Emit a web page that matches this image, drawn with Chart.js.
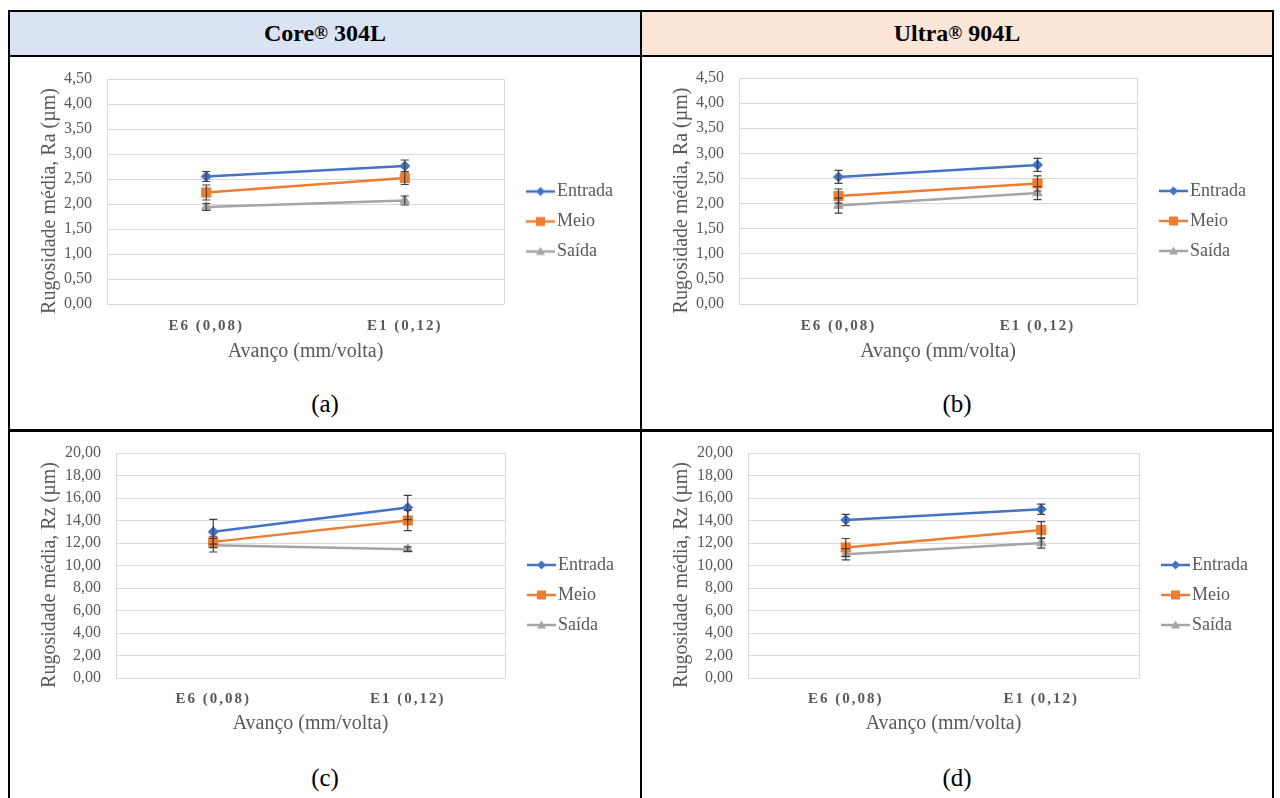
<!DOCTYPE html>
<html>
<head>
<meta charset="utf-8">
<script src="https://cdn.jsdelivr.net/npm/chart.js@4.4.1/dist/chart.umd.min.js"></script>
<style>
  html, body { margin: 0; padding: 0; background: #fff; }
  body { position: relative; width: 1280px; height: 798px; overflow: hidden;
         font-family: "Liberation Serif", "Times New Roman", serif; color: #000; }
  .ln { position: absolute; background: #000; }
  .hdr { position: absolute; top: 12px; height: 43px; width: 630px; display: flex;
         align-items: center; justify-content: center; font-weight: bold; font-size: 24px; }
  .hdr sup { font-size: 0.78em; line-height: 0; position: relative; top: -0.02em; }
  .cap { position: absolute; width: 630px; text-align: center; font-size: 25px; line-height: 28px; }
  canvas { position: absolute; }
</style>
</head>
<body>
  <!-- table header cells -->
  <div class="hdr" style="left:10px;background:#DAE3F3;">Core<sup>®</sup>&nbsp;304L</div>
  <div class="hdr" style="left:642px;background:#FBE5D6;">Ultra<sup>®</sup>&nbsp;904L</div>

  <!-- table rules -->
  <div class="ln" style="left:8px;top:10px;width:1266px;height:2px;"></div>
  <div class="ln" style="left:8px;top:10px;width:2px;height:788px;"></div>
  <div class="ln" style="left:1272px;top:10px;width:2px;height:788px;"></div>
  <div class="ln" style="left:640px;top:10px;width:2px;height:788px;"></div>
  <div class="ln" style="left:8px;top:55px;width:1266px;height:2px;"></div>
  <div class="ln" style="left:8px;top:429px;width:1266px;height:3px;"></div>

  <canvas id="chartA" width="630" height="307" style="left:10px;top:57px;"></canvas>
  <canvas id="chartB" width="630" height="307" style="left:642px;top:57px;"></canvas>
  <canvas id="chartC" width="630" height="305" style="left:10px;top:432px;"></canvas>
  <canvas id="chartD" width="630" height="305" style="left:642px;top:432px;"></canvas>

  <div class="cap" style="left:10px;top:390px;">(a)</div>
  <div class="cap" style="left:642px;top:390px;">(b)</div>
  <div class="cap" style="left:10px;top:764px;">(c)</div>
  <div class="cap" style="left:642px;top:764px;">(d)</div>

<script>
// ---- data -------------------------------------------------------------
const categories = ['E6 (0,08)', 'E1 (0,12)'];
const seriesNames = ['Entrada', 'Meio', 'Saída'];

// Ra (µm) – Core 304L
const raCoreEntrada = [2.55, 2.76];
const raCoreEntradaErr = [0.10, 0.12];
const raCoreMeio = [2.23, 2.52];
const raCoreMeioErr = [0.15, 0.13];
const raCoreSaida = [1.94, 2.07];
const raCoreSaidaErr = [0.07, 0.09];

// Ra (µm) – Ultra 904L
const raUltraEntrada = [2.53, 2.77];
const raUltraEntradaErr = [0.13, 0.13];
const raUltraMeio = [2.15, 2.40];
const raUltraMeioErr = [0.14, 0.15];
const raUltraSaida = [1.96, 2.21];
const raUltraSaidaErr = [0.15, 0.13];

// Rz (µm) – Core 304L
const rzCoreEntrada = [13.0, 15.15];
const rzCoreEntradaErr = [1.10, 1.08];
const rzCoreMeio = [12.1, 14.0];
const rzCoreMeioErr = [0.50, 0.90];
const rzCoreSaida = [11.8, 11.45];
const rzCoreSaidaErr = [0.60, 0.20];

// Rz (µm) – Ultra 904L
const rzUltraEntrada = [14.05, 15.0];
const rzUltraEntradaErr = [0.50, 0.45];
const rzUltraMeio = [11.6, 13.15];
const rzUltraMeioErr = [0.80, 0.75];
const rzUltraSaida = [11.0, 12.0];
const rzUltraSaidaErr = [0.50, 0.45];

// y-axis ranges: [min, max, step]
const raTicks = [0, 4.5, 0.5];
const rzTicks = [0, 20, 2];

const raTitle = 'Rugosidade média, Ra (µm)';
const rzTitle = 'Rugosidade média, Rz (µm)';
const xTitle = 'Avanço (mm/volta)';

// ---- styling ----------------------------------------------------------
const FONT = '"Liberation Serif", "Times New Roman", serif';
const TEXT_GREY = '#595959';
const GRID_GREY = '#D9D9D9';
const seriesColors = ['#4472C4', '#ED7D31', '#A5A5A5'];
const seriesMarkers = ['rectRot', 'rect', 'triangle'];
const markerRadius = [5, 6.5, 5.5];

Chart.defaults.font.family = FONT;
Chart.defaults.color = TEXT_GREY;

// legend swatch: a short line with the series marker on it
function makeSwatch(color, marker) {
  const c = document.createElement('canvas');
  c.width = 46; c.height = 14;
  const g = c.getContext('2d');
  g.strokeStyle = color; g.fillStyle = color; g.lineWidth = 2.5;
  g.beginPath(); g.moveTo(17, 7); g.lineTo(46, 7); g.stroke();
  const cx = 31.5, cy = 7;
  g.beginPath();
  if (marker === 'rectRot') {
    g.moveTo(cx, cy - 4.5); g.lineTo(cx + 4.5, cy); g.lineTo(cx, cy + 4.5); g.lineTo(cx - 4.5, cy);
  } else if (marker === 'rect') {
    g.rect(cx - 4.5, cy - 4.5, 9, 9);
  } else {
    g.moveTo(cx, cy - 4.5); g.lineTo(cx + 4.5, cy + 3.5); g.lineTo(cx - 4.5, cy + 3.5);
  }
  g.closePath(); g.fill();
  return c;
}
const swatches = seriesColors.map((c, i) => makeSwatch(c, seriesMarkers[i]));

// error bars drawn through the value scale
const errorBars = {
  id: 'errorBars',
  afterDatasetsDraw(chart) {
    const { ctx } = chart;
    const y = chart.scales.y;
    ctx.save();
    ctx.strokeStyle = '#3F3F3F';
    ctx.lineWidth = 1.2;
    chart.data.datasets.forEach((ds, di) => {
      const meta = chart.getDatasetMeta(di);
      (ds.errors || []).forEach((e, i) => {
        const pt = meta.data[i];
        if (!pt) return;
        const x = pt.x;
        const yTop = y.getPixelForValue(ds.data[i] + e);
        const yBot = y.getPixelForValue(ds.data[i] - e);
        const cap = 4;
        ctx.beginPath();
        ctx.moveTo(x, yTop); ctx.lineTo(x, yBot);
        ctx.moveTo(x - cap, yTop); ctx.lineTo(x + cap, yTop);
        ctx.moveTo(x - cap, yBot); ctx.lineTo(x + cap, yBot);
        ctx.stroke();
      });
    });
    ctx.restore();
  }
};

// fixed box sizes, letter-spaced category labels, lowered value-axis title
const frame = {
  id: 'frame',
  beforeLayout(chart, args, opts) {
    const lg = chart.legend;
    if (lg && !lg.__fixed) {
      const fit = lg.fit.bind(lg);
      lg.fit = function () { fit(); this.width = opts.legendWidth; };
      lg.__fixed = true;
    }
  },
  afterLayout(chart, args, opts) {
    const xs = chart.scales.x, ys = chart.scales.y;
    if (!xs.__spaced) {
      const draw = xs.drawLabels.bind(xs);
      xs.drawLabels = function (area) {
        chart.ctx.save();
        chart.ctx.letterSpacing = '2px';
        draw(area);
        chart.ctx.restore();
      };
      xs.__spaced = true;
    }
    if (!ys.__shifted) {
      const drawT = ys.drawTitle.bind(ys);
      ys.drawTitle = function () {
        chart.ctx.save();
        chart.ctx.translate(0, opts.yTitleShift);
        drawT();
        chart.ctx.restore();
      };
      ys.__shifted = true;
    }
  }
};

function buildChart(id, box, values, errors, ticks, yTitle) {
  const canvas = document.getElementById(id);
  const W = canvas.width, H = canvas.height;
  const padLeft = box.titleX - 12;
  const datasets = seriesNames.map((name, i) => ({
    label: name,
    data: values[i],
    errors: errors[i],
    borderColor: seriesColors[i],
    backgroundColor: seriesColors[i],
    pointStyle: seriesMarkers[i],
    pointRadius: markerRadius[i],
    pointHoverRadius: markerRadius[i],
    pointBorderWidth: 1,
    borderWidth: 2.5,
    tension: 0
  }));
  return new Chart(canvas, {
    type: 'line',
    data: { labels: categories, datasets },
    plugins: [errorBars, frame],
    options: {
      responsive: false,
      animation: false,
      events: [],
      layout: { padding: { left: padLeft, right: 0, top: box.plotTop, bottom: 0 } },
      scales: {
        x: {
          offset: true,
          grid: {
            offset: true,
            drawTicks: false,
            lineWidth: 1,
            color: c => (c.index === 1 ? 'rgba(0,0,0,0)' : GRID_GREY)
          },
          border: { display: false },
          ticks: {
            color: TEXT_GREY,
            padding: box.tickPad,
            maxRotation: 0,
            autoSkip: false,
            font: { family: FONT, size: 15, weight: 'bold', lineHeight: 1.2 }
          },
          title: {
            display: true,
            text: xTitle,
            color: TEXT_GREY,
            padding: { top: 0, bottom: box.xTitlePad },
            font: { family: FONT, size: 20, lineHeight: 1.2 }
          },
          afterFit: s => { s.height = H - box.plotBottom; s.paddingLeft = 0; s.paddingRight = 0; }
        },
        y: {
          min: ticks[0],
          max: ticks[1],
          grid: { color: GRID_GREY, lineWidth: 1, drawTicks: false },
          border: { display: false },
          ticks: {
            stepSize: ticks[2],
            color: TEXT_GREY,
            padding: 15,
            font: { family: FONT, size: 16 },
            callback: v => Number(v).toFixed(2).replace('.', ',')
          },
          title: {
            display: true,
            text: yTitle,
            color: TEXT_GREY,
            padding: { top: 0, bottom: 0 },
            font: { family: FONT, size: 20, lineHeight: 1.2 }
          },
          afterFit: s => { s.width = box.plotLeft - padLeft; s.paddingTop = 0; s.paddingBottom = 0; }
        }
      },
      plugins: {
        tooltip: { enabled: false },
        frame: { legendWidth: W - box.plotRight, yTitleShift: 9.5 },
        legend: {
          position: 'right',
          align: 'center',
          labels: {
            usePointStyle: true,
            pointStyleWidth: 32,
            padding: 12,
            color: TEXT_GREY,
            font: { family: FONT, size: 18 },
            generateLabels: chart => {
              const items = Chart.defaults.plugins.legend.labels.generateLabels(chart);
              items.forEach((it, i) => { it.pointStyle = swatches[i]; it.fontColor = TEXT_GREY; });
              return items;
            }
          }
        }
      }
    }
  });
}

buildChart('chartA',
  { plotLeft: 97, plotRight: 494, plotTop: 22, plotBottom: 247, titleX: 40, tickPad: 13, xTitlePad: 0 },
  [raCoreEntrada, raCoreMeio, raCoreSaida],
  [raCoreEntradaErr, raCoreMeioErr, raCoreSaidaErr],
  raTicks, raTitle);

buildChart('chartB',
  { plotLeft: 97, plotRight: 495, plotTop: 21, plotBottom: 247, titleX: 40, tickPad: 13, xTitlePad: 0 },
  [raUltraEntrada, raUltraMeio, raUltraSaida],
  [raUltraEntradaErr, raUltraMeioErr, raUltraSaidaErr],
  raTicks, raTitle);

buildChart('chartC',
  { plotLeft: 106, plotRight: 495, plotTop: 21, plotBottom: 246, titleX: 40, tickPad: 12, xTitlePad: 1 },
  [rzCoreEntrada, rzCoreMeio, rzCoreSaida],
  [rzCoreEntradaErr, rzCoreMeioErr, rzCoreSaidaErr],
  rzTicks, rzTitle);

buildChart('chartD',
  { plotLeft: 106, plotRight: 497, plotTop: 21, plotBottom: 246, titleX: 40, tickPad: 12, xTitlePad: 1 },
  [rzUltraEntrada, rzUltraMeio, rzUltraSaida],
  [rzUltraEntradaErr, rzUltraMeioErr, rzUltraSaidaErr],
  rzTicks, rzTitle);
</script>
</body>
</html>
